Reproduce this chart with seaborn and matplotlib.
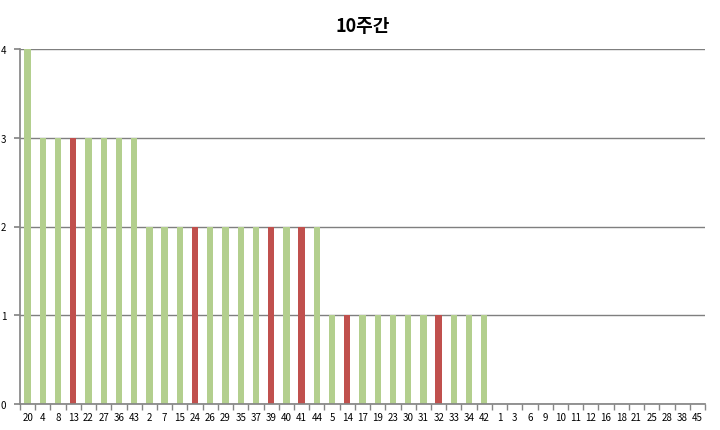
import matplotlib
matplotlib.use("Agg")
import matplotlib.pyplot as plt
import seaborn as sns
import pandas as pd
import numpy as np

numbers = ["20", "4", "8", "13", "22", "27", "36", "43",
           "2", "7", "15", "24", "26", "29", "35", "37", "39", "40", "41", "44",
           "5", "14", "17", "19", "23", "30", "31", "32", "33", "34", "42",
           "1", "3", "6", "9", "10", "11", "12", "16", "18", "21", "25", "28", "38", "45"]
counts = [4, 3, 3, 3, 3, 3, 3, 3,
          2, 2, 2, 2, 2, 2, 2, 2, 2, 2, 2, 2,
          1, 1, 1, 1, 1, 1, 1, 1, 1, 1, 1,
          0, 0, 0, 0, 0, 0, 0, 0, 0, 0, 0, 0, 0, 0]
highlight = ["13", "24", "39", "41", "14", "32"]

sns.set_theme(style="white")
plt.rcParams['font.family'] = ['Noto Sans CJK KR', 'DejaVu Sans']

df = pd.DataFrame({"num": numbers, "count": counts})
df["group"] = ["hl" if n in highlight else "normal" for n in numbers]

fig = plt.figure(figsize=(7.2, 4.31), dpi=100)
ax = fig.add_axes([20/720, 1-405/431, 685/720, 355/431])

sns.barplot(data=df, x="num", y="count", hue="group", order=numbers,
            palette={"normal": "#B3CF8E", "hl": "#C0504D"},
            dodge=False, width=0.42, legend=False, ax=ax, saturation=1,
            linewidth=0)

ax.set_ylim(0, 4)
ax.set_xlim(-0.5, len(numbers) - 0.5)
ax.set_yticks([0, 1, 2, 3, 4])
ax.yaxis.grid(True, color="#7F7F7F", linewidth=1)
ax.set_axisbelow(True)
ax.set_xlabel("")
ax.set_ylabel("")
for s in ["top", "right"]:
    ax.spines[s].set_visible(False)
ax.spines["left"].set_color("#868686")
ax.spines["bottom"].set_color("#868686")

ax.tick_params(axis="x", which="major", length=0, labelsize=7, pad=6, labelcolor="black")
ax.set_xticks(np.arange(-0.5, len(numbers), 1), minor=True)
ax.tick_params(axis="x", which="minor", length=4, color="#868686", direction="out", bottom=True)
ax.tick_params(axis="y", labelsize=7, length=4, color="#868686", left=True, pad=6, labelcolor="black")

ax.set_title("10주간", fontsize=13, fontweight="bold", pad=13, color="black")

fig.savefig("out.png", dpi=100)
